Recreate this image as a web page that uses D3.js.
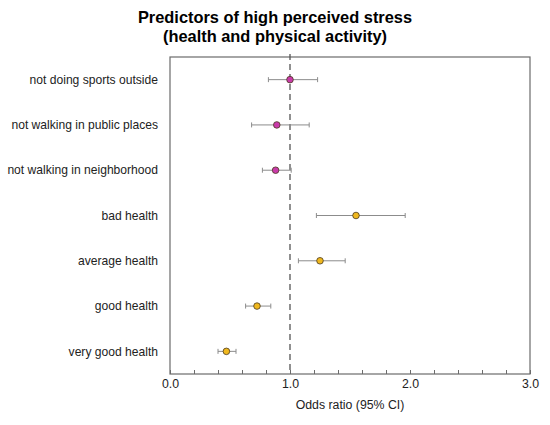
<!DOCTYPE html>
<html>
<head>
<meta charset="utf-8">
<script src="https://cdn.jsdelivr.net/npm/d3@7"></script>
<style>
  body { margin: 0; background: #fff; }
  text { font-family: "Liberation Sans", Arial, sans-serif; }
</style>
</head>
<body>
<div class="forest"></div>
<script>
// predictors, top to bottom
const labels = ["not doing sports outside", "not walking in public places", "not walking in neighborhood",
                "bad health", "average health", "good health", "very good health"];
const oddsRatio = [1.00, 0.89, 0.88, 1.55, 1.25, 0.725, 0.47];
const ciLow     = [0.82, 0.68, 0.77, 1.22, 1.07, 0.63, 0.40];
const ciHigh    = [1.23, 1.16, 1.01, 1.96, 1.46, 0.84, 0.55];
const group     = ["activity", "activity", "activity", "health", "health", "health", "health"];
const xTicks = [0, 1, 2, 3];

const W = 550, H = 425;
const margin = {top: 57, right: 20, bottom: 51, left: 170};
const width = W - margin.left - margin.right,
      height = H - margin.top - margin.bottom;

const colors = {activity: "#c93aaa", health: "#f0b81e"};

const svg = d3.select(".forest")
  .append("svg")
    .attr("width", W)
    .attr("height", H);

svg.append("text")
    .attr("x", 275)
    .attr("y", 23)
    .attr("text-anchor", "middle")
    .style("font-size", "16.4px")
    .style("font-weight", "bold")
    .text("Predictors of high perceived stress");
svg.append("text")
    .attr("x", 275)
    .attr("y", 42)
    .attr("text-anchor", "middle")
    .style("font-size", "16.4px")
    .style("font-weight", "bold")
    .text("(health and physical activity)");

const g = svg.append("g")
    .attr("transform", "translate(" + margin.left + "," + margin.top + ")");

const x = d3.scaleLinear().domain([0, 3]).range([0, width]);
const y = d3.scalePoint().domain(labels).range([0, height]).padding(0.5);

// frame
g.append("rect")
    .attr("width", width)
    .attr("height", height)
    .attr("fill", "none")
    .attr("stroke", "#6b6b6b")
    .attr("stroke-width", 1.2);

// minor ticks (inward)
g.append("g")
    .attr("transform", "translate(0," + height + ")")
    .call(d3.axisTop(x).tickValues(d3.range(0, 3.01, 0.2)).tickSize(4).tickFormat(""))
    .call(a => a.select(".domain").remove())
    .call(a => a.selectAll("line").attr("stroke", "#6b6b6b"));

// major tick labels
g.append("g")
    .attr("transform", "translate(0," + height + ")")
    .call(d3.axisBottom(x).tickValues(xTicks).tickSize(0).tickPadding(5).tickFormat(d3.format(".1f")))
    .call(a => a.select(".domain").remove())
    .call(a => a.selectAll("text").style("font-size", "12.3px").attr("fill", "#222"));

g.append("text")
    .attr("x", width / 2)
    .attr("y", height + 35)
    .attr("text-anchor", "middle")
    .style("font-size", "12.3px")
    .attr("fill", "#222")
    .text("Odds ratio (95% CI)");

// row labels
g.append("g")
  .selectAll("text")
  .data(labels)
  .enter()
  .append("text")
    .attr("x", -12)
    .attr("y", d => y(d))
    .attr("dy", "0.35em")
    .attr("text-anchor", "end")
    .style("font-size", "12.1px")
    .attr("fill", "#222")
    .text(d => d);

// reference line at OR = 1
g.append("line")
    .attr("x1", x(1)).attr("x2", x(1))
    .attr("y1", -3).attr("y2", height)
    .attr("stroke", "#555")
    .attr("stroke-width", 1.3)
    .attr("stroke-dasharray", "6,4");

const rows = labels.map((d, i) => ({label: d, or: oddsRatio[i], lo: ciLow[i], hi: ciHigh[i], grp: group[i]}));

const bars = g.append("g").selectAll("g").data(rows).enter().append("g");
bars.append("line")
    .attr("x1", d => x(d.lo)).attr("x2", d => x(d.hi))
    .attr("y1", d => y(d.label)).attr("y2", d => y(d.label))
    .attr("stroke", "#8c8c8c");
bars.append("line")
    .attr("x1", d => x(d.lo)).attr("x2", d => x(d.lo))
    .attr("y1", d => y(d.label) - 2.5).attr("y2", d => y(d.label) + 2.5)
    .attr("stroke", "#8c8c8c");
bars.append("line")
    .attr("x1", d => x(d.hi)).attr("x2", d => x(d.hi))
    .attr("y1", d => y(d.label) - 2.5).attr("y2", d => y(d.label) + 2.5)
    .attr("stroke", "#8c8c8c");
bars.append("circle")
    .attr("cx", d => x(d.or))
    .attr("cy", d => y(d.label))
    .attr("r", 3.3)
    .attr("fill", d => colors[d.grp])
    .attr("stroke", "#4a3a20")
    .attr("stroke-width", 0.8);
</script>
</body>
</html>
